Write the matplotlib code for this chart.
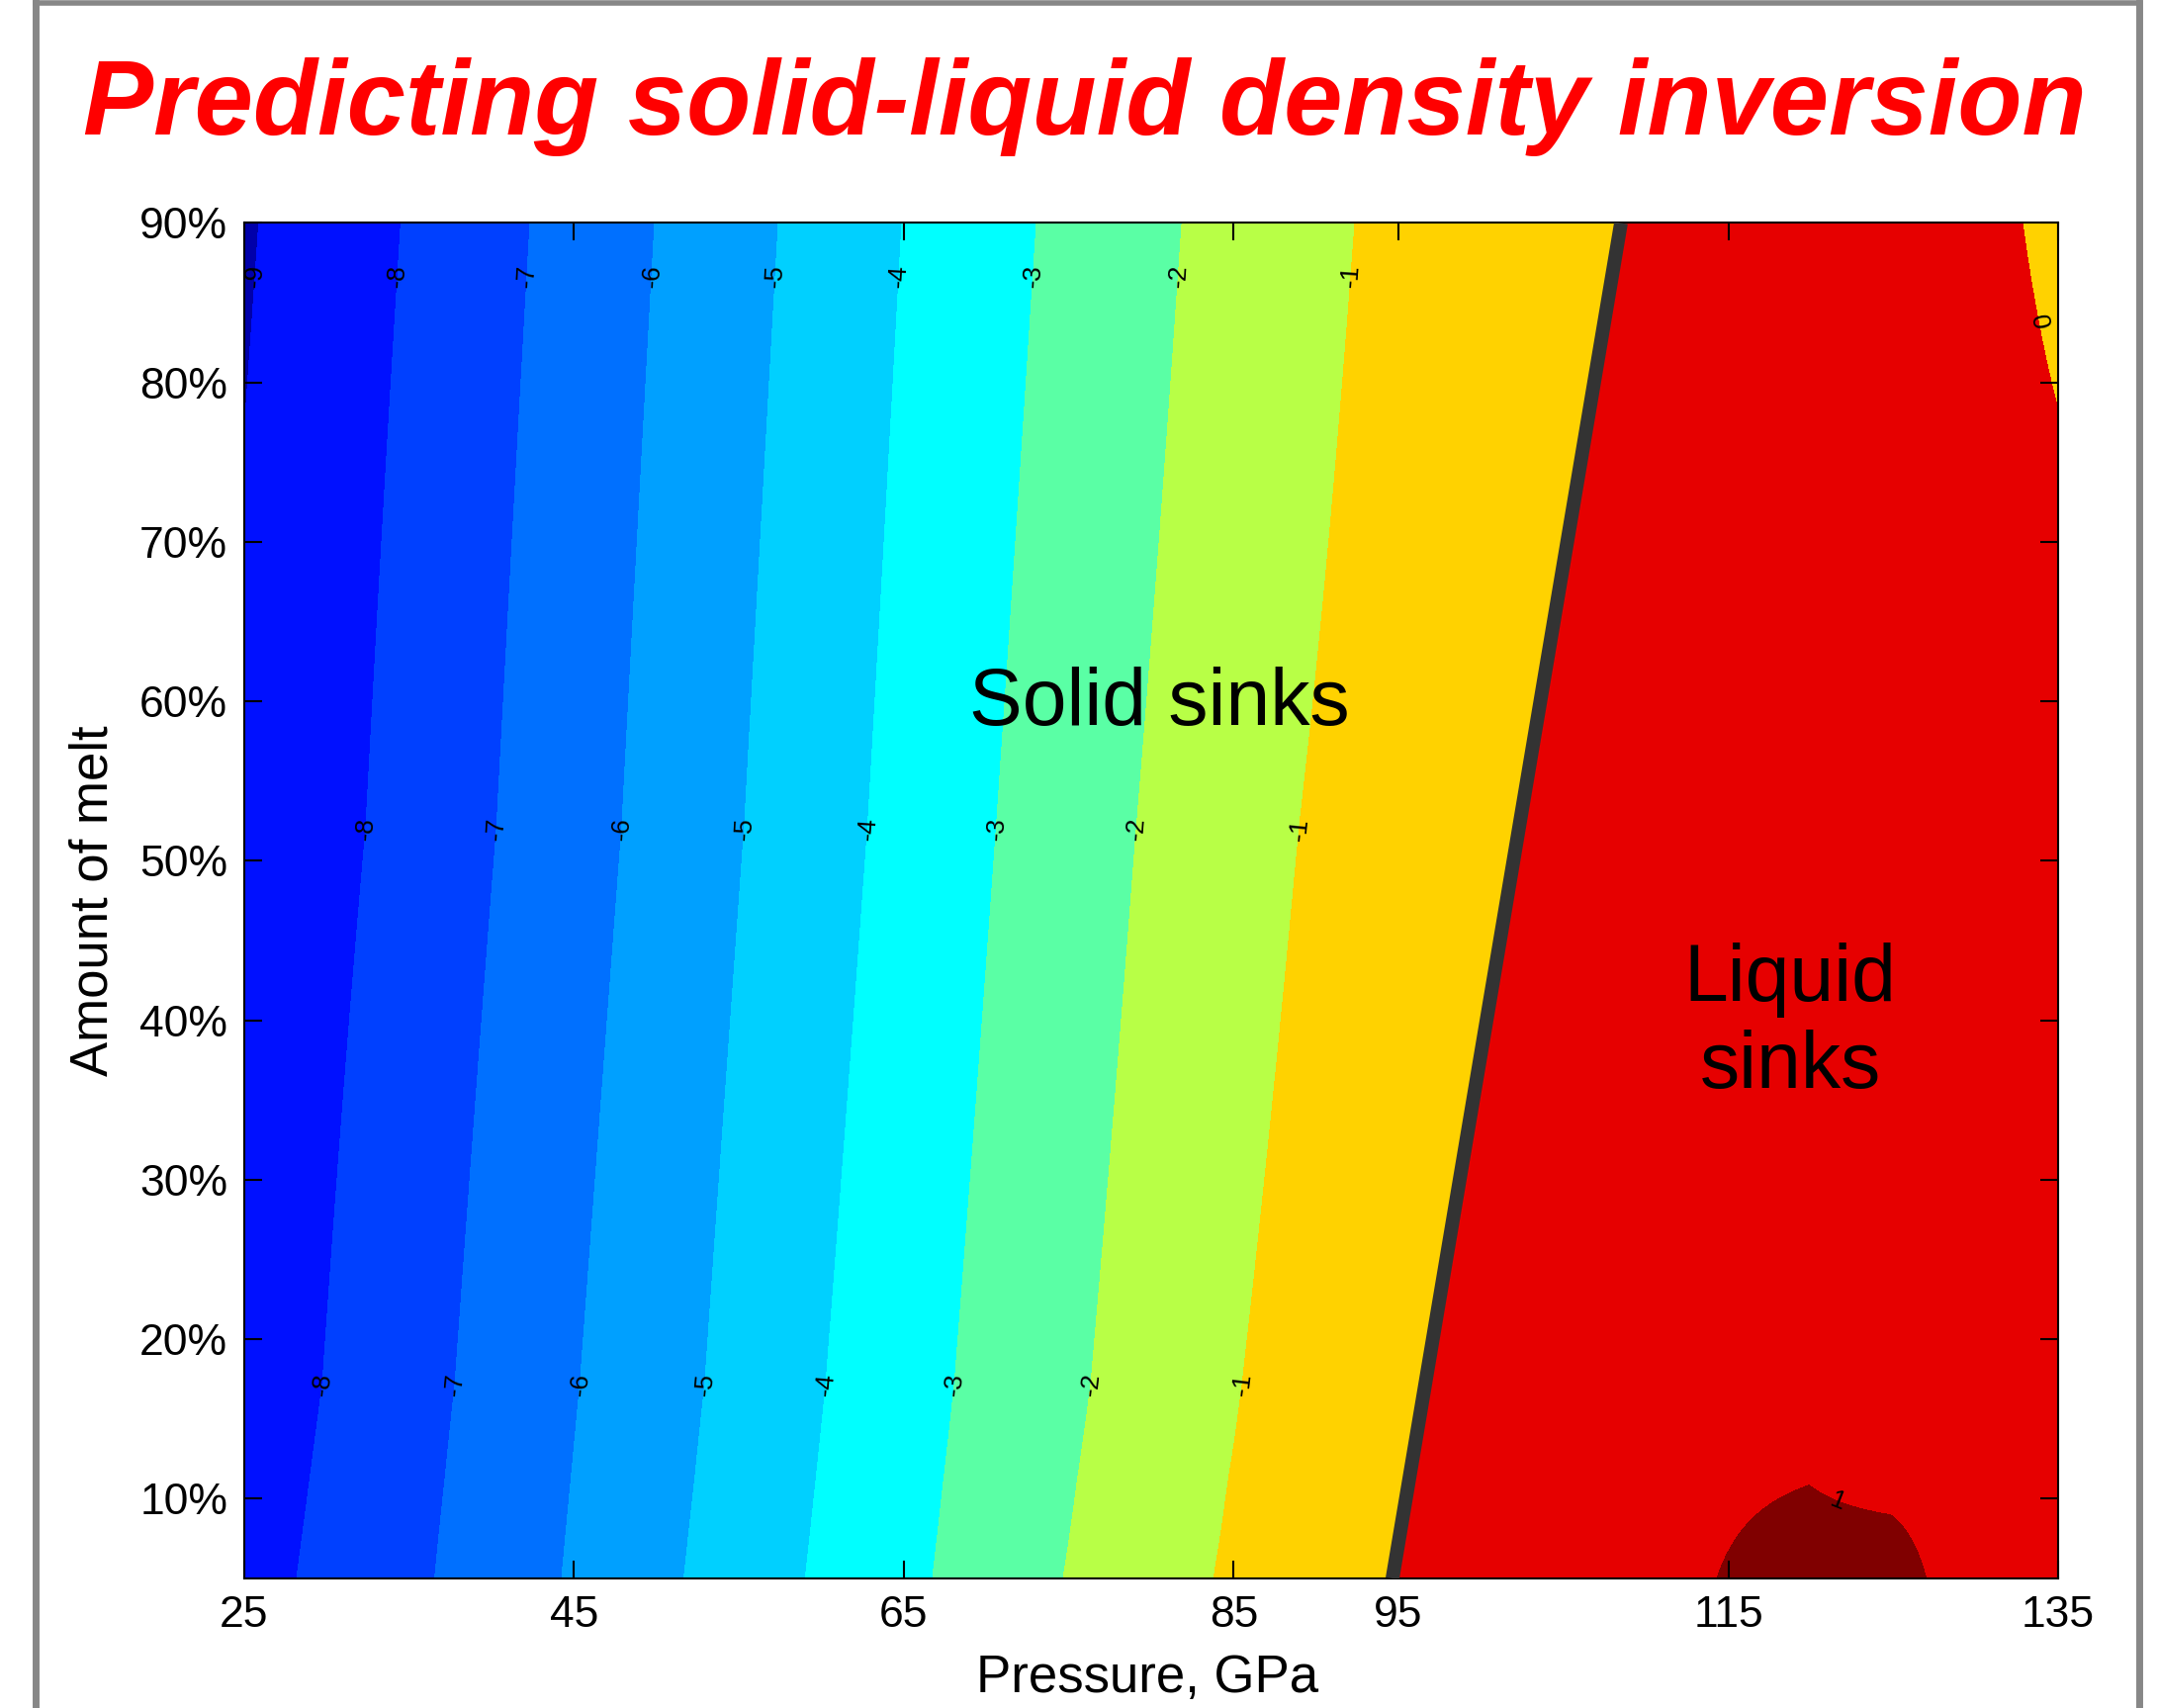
import matplotlib
matplotlib.use('Agg')
import matplotlib.pyplot as plt
from matplotlib.lines import Line2D
import numpy as np

plt.rcParams['font.family'] = ['Liberation Sans', 'DejaVu Sans']

# contour crossings: pressure (GPa) of each level, per melt row (%)
melt_rows = [5, 11, 17.2, 52, 90]
left_levels = [-10, -9, -8, -7, -6, -5, -4, -3, -2, -1, 0]
left_P = [
    [11.5, 19.8, 28.18, 36.55, 44.25, 51.66, 59.02, 66.74, 74.66, 83.78, 94.63],
    [12.3, 20.6, 28.95, 37.15, 44.8, 52.3, 59.65, 67.4, 75.5, 84.65, 95.6],
    [13.2, 21.5, 29.74, 37.78, 45.36, 52.93, 60.27, 68.07, 76.34, 85.52, 96.6],
    [14.8, 23.2, 32.37, 40.3, 47.89, 55.32, 62.8, 70.6, 79.1, 88.97, 102.3],
    [17.26, 25.88, 34.5, 42.33, 49.89, 57.39, 64.88, 73.04, 81.86, 92.35, 108.49],
]
# right of the zero line: (pressure, value) knots per row
right_P = [[98.6, 114.3, 119.9, 124.9, 127.0, 135],
           [99.6, 112, 119.9, 135],
           [100.6, 118, 135],
           [106.3, 120, 135],
           [112.5, 121, 132.84, 135]]
right_val = [[0.37, 1.0, 1.2, 1.3, 1.0, 0.6],
             [0.365, 0.9, 0.995, 0.55],
             [0.36, 0.8, 0.5],
             [0.3, 0.6, 0.45],
             [0.25, 0.4, 0.0, -0.2]]

# thick line where solid and liquid have equal density
boundary_P = [108.49, 94.63]
boundary_melt = [90, 5]

fill_levels = [-11, -9, -8, -7, -6, -5, -4, -3, -2, -1, 0, 1, 2]
band_colors = ['#0000aa', '#0010ff', '#0040ff', '#0070ff', '#00a0ff', '#00d0ff',
               '#00ffff', '#5affa5', '#b8ff46', '#ffd200', '#e60000', '#800000']
label_levels = [-9, -8, -7, -6, -5, -4, -3, -2, -1, 0, 1]

xticks = [25, 45, 65, 85, 95, 115, 135]
yticks = [10, 20, 30, 40, 50, 60, 70, 80, 90]

# field on a fine grid
P = np.linspace(25, 135, 561)
M = np.linspace(5, 90, 431)
rows = np.array([np.interp(P, lp + rp, left_levels + rv)
                 for lp, rp, rv in zip(left_P, right_P, right_val)])
Z = np.array([np.interp(M, melt_rows, rows[:, j]) for j in range(len(P))]).T

fig = plt.figure(figsize=(21.81, 17.27), dpi=100)
ax = fig.add_axes([0.11325, 0.07585, 0.8409, 0.79358])

ax.contourf(P, M, Z, levels=fill_levels, colors=band_colors, zorder=1)
cs = ax.contour(P, M, Z, levels=label_levels, colors='k', linewidths=0, zorder=2)

# label positions: three rows of labels like the original
pos = []
for k in range(1, 10):
    pos.append((left_P[4][k] - 0.15, 86.7))
for k in range(2, 10):
    pos.append((left_P[3][k], 52))
for k in range(2, 10):
    pos.append((left_P[2][k], 17.2))
pos.append((133.5, 83.7))
pos.append((121.8, 10.2))
ax.clabel(cs, manual=pos, inline=False, fontsize=19, fmt='%d', colors='k')

ax.plot(boundary_P, boundary_melt, color='#333333', lw=10, solid_capstyle='butt', zorder=4)

ax.set_xlim(25, 135)
ax.set_ylim(5, 90)
ax.set_xticks(xticks)
ax.set_xticklabels([str(v) for v in xticks])
ax.set_yticks(yticks)
ax.set_yticklabels(['%d%%' % v for v in yticks])
ax.tick_params(direction='in', top=True, right=True, length=13, width=1.5,
               labelsize=32, pad=12)
for s in ax.spines.values():
    s.set_linewidth(1.5)

ax.set_xlabel('Pressure, GPa', fontsize=38)
ax.xaxis.set_label_coords(0.4978, -0.0737)
ax.xaxis.label.set_verticalalignment('center')
ax.set_ylabel('Amount of melt', fontsize=38)
ax.yaxis.set_label_coords(-0.0829, 0.5)
ax.yaxis.label.set_verticalalignment('center')

ax.text(80.5, 59.8, 'Solid sinks', fontsize=58, ha='center', va='center', zorder=5)
ax.text(118.75, 39.8, 'Liquid\nsinks', fontsize=58, ha='center', va='center',
        multialignment='center', zorder=5)

fig.text(0.503, 0.9212, 'Predicting solid-liquid density inversion', fontsize=76.8,
         fontweight='bold', fontstyle='italic', color='#ff0000', ha='center', va='baseline')

# grey frame around the slide
frame = '#878787'
fig.add_artist(Line2D([0.01628, 0.01628], [0, 0.9985], color=frame, lw=5))
fig.add_artist(Line2D([0.01628, 0.99175], [0.9985, 0.9985], color=frame, lw=4))
fig.add_artist(Line2D([0.99175, 0.99175], [0, 0.9985], color=frame, lw=5))

fig.savefig('out.png', dpi=100)
